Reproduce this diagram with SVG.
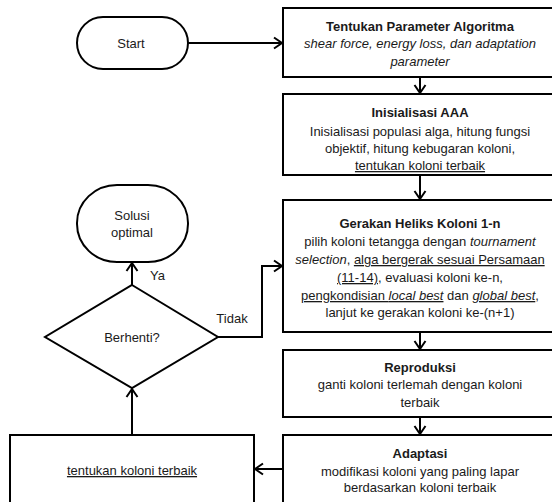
<svg xmlns="http://www.w3.org/2000/svg" width="552" height="502" viewBox="0 0 552 502">
<defs>
<marker id="arr" markerUnits="userSpaceOnUse" markerWidth="14" markerHeight="14" viewBox="-12 -7 14 14" refX="0" refY="0" orient="auto">
<path d="M-8,-5.5 L0,0 L-8,5.5" fill="none" stroke="#000" stroke-width="2"/>
</marker>
<style>
.box{fill:#fff;stroke:#000;stroke-width:2}
.ln{fill:none;stroke:#000;stroke-width:2;marker-end:url(#arr)}
text{font-family:"Liberation Sans",Arial,sans-serif;font-size:13px;fill:#1a1a1a;text-anchor:middle}
.b{font-weight:bold}
.i{font-style:italic}
.u{text-decoration:underline}
</style>
</defs>
<rect width="552" height="502" fill="#fff"/>
<g id="connectors">
<line class="ln" x1="188" y1="43" x2="282" y2="43"/>
<line class="ln" x1="420" y1="77" x2="420" y2="93"/>
<line class="ln" x1="420" y1="175" x2="420" y2="199"/>
<line class="ln" x1="420" y1="332" x2="420" y2="349"/>
<line class="ln" x1="420" y1="417" x2="420" y2="434"/>
<line class="ln" x1="283" y1="469" x2="255" y2="469"/>
<line class="ln" x1="132" y1="435" x2="132" y2="389"/>
<line class="ln" x1="132" y1="285" x2="132" y2="263"/>
<polyline class="ln" points="218,337 262,337 262,266 282,266"/>
<text x="150" y="280" style="text-anchor:start">Ya</text>
<text x="232" y="323">Tidak</text>
</g>
<g id="start">
<rect class="box" x="77" y="17" width="111" height="52" rx="26" ry="26"/>
<text x="131" y="48">Start</text>
</g>
<g id="param">
<rect class="box" x="283" y="8" width="275" height="69"/>
<text class="b" x="420" y="31">Tentukan Parameter Algoritma</text>
<text class="i" x="420" y="48">shear force, energy loss, dan adaptation</text>
<text class="i" x="420" y="66">parameter</text>
</g>
<g id="init">
<rect class="box" x="283" y="94" width="275" height="81"/>
<text class="b" x="420" y="117">Inisialisasi AAA</text>
<text x="420" y="136">Inisialisasi populasi alga, hitung fungsi</text>
<text x="420" y="153">objektif, hitung kebugaran koloni,</text>
<text class="u" x="420" y="170">tentukan koloni terbaik</text>
</g>
<g id="heliks">
<rect class="box" x="283" y="200" width="275" height="132"/>
<text class="b" x="420" y="228">Gerakan Heliks Koloni 1-n</text>
<text x="420" y="246">pilih koloni tetangga dengan <tspan class="i">tournament</tspan></text>
<text x="420" y="264"><tspan class="i">selection</tspan>, <tspan class="u">alga bergerak sesuai Persamaan</tspan></text>
<text x="420" y="282"><tspan class="u">(11-14)</tspan>, evaluasi koloni ke-n,</text>
<text x="420" y="300"><tspan class="u">pengkondisian <tspan class="i">local best</tspan></tspan> dan <tspan class="u i">global best</tspan>,</text>
<text x="420" y="317">lanjut ke gerakan koloni ke-(n+1)</text>
</g>
<g id="reproduksi">
<rect class="box" x="283" y="350" width="275" height="67"/>
<text class="b" x="420" y="372">Reproduksi</text>
<text x="420" y="389">ganti koloni terlemah dengan koloni</text>
<text x="420" y="407">terbaik</text>
</g>
<g id="adaptasi">
<rect class="box" x="283" y="435" width="275" height="80"/>
<text class="b" x="420" y="458">Adaptasi</text>
<text x="420" y="476">modifikasi koloni yang paling lapar</text>
<text x="420" y="492">berdasarkan koloni terbaik</text>
</g>
<g id="terbaik">
<rect class="box" x="10" y="435" width="244" height="80"/>
<text class="u" x="132" y="475">tentukan koloni terbaik</text>
</g>
<g id="berhenti">
<polygon class="box" points="132,285 218,337 132,388 45,337"/>
<text x="132" y="342">Berhenti?</text>
</g>
<g id="solusi">
<rect class="box" x="77" y="185" width="111" height="77" rx="40" ry="38"/>
<text x="132" y="220">Solusi</text>
<text x="132" y="237">optimal</text>
</g>
</svg>
